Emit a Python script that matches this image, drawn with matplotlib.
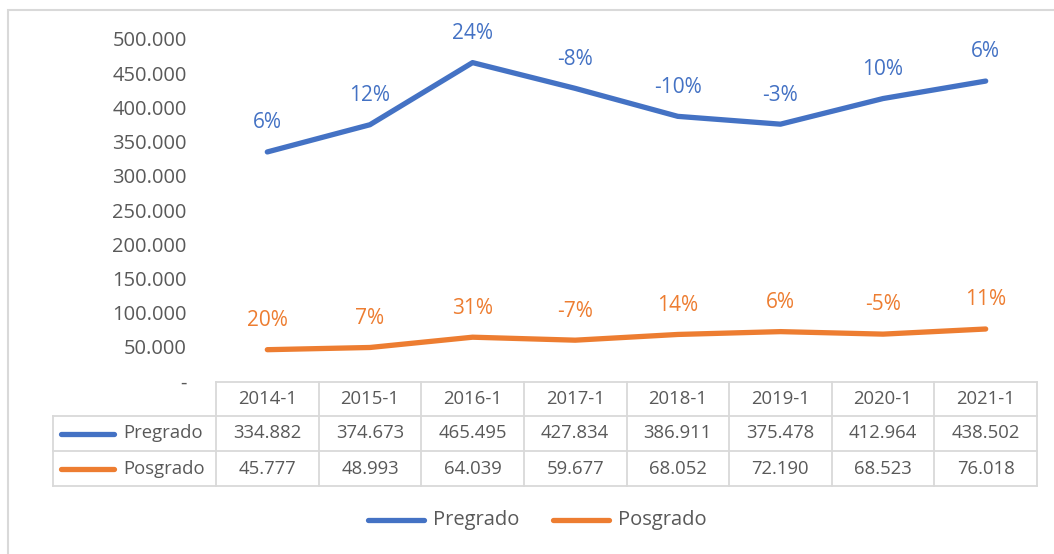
import matplotlib.pyplot as plt
from matplotlib.lines import Line2D
from matplotlib.patches import Rectangle

# data
periods = ["2014-1", "2015-1", "2016-1", "2017-1", "2018-1", "2019-1", "2020-1", "2021-1"]
pregrado = [334882, 374673, 465495, 427834, 386911, 375478, 412964, 438502]
posgrado = [45777, 48993, 64039, 59677, 68052, 72190, 68523, 76018]
pregrado_pct = ["6%", "12%", "24%", "-8%", "-10%", "-3%", "10%", "6%"]
posgrado_pct = ["20%", "7%", "31%", "-7%", "14%", "6%", "-5%", "11%"]
y_ticks = [0, 50000, 100000, 150000, 200000, 250000, 300000, 350000, 400000, 450000, 500000]

BLUE = "#4472C4"
ORANGE = "#ED7D31"
TXT = "#595959"
GRID = "#D9D9D9"
W, H = 1054, 554

plt.rcParams["font.family"] = ["Open Sans", "DejaVu Sans"]

def fmt(v):
    # spanish style thousands separator, zero shown as dash
    if v == 0:
        return "-"
    return f"{v:,}".replace(",", ".")

def fx(px):
    return px / W

def fy(py):
    return (H - py) / H

fig = plt.figure(figsize=(W / 100, H / 100), dpi=100)

# chart area border (only left and top visible in the crop)
fig.add_artist(Rectangle((fx(8), fy(600)), fx(1100), fy(10) - fy(600), transform=fig.transFigure,
                         fill=False, edgecolor=GRID, lw=1.5))

ax = fig.add_axes([fx(216), fy(381), fx(1037) - fx(216), fy(39) - fy(381)])
x = list(range(len(periods)))
ax.plot(x, pregrado, color=BLUE, lw=3.8, solid_capstyle="round", solid_joinstyle="round")
ax.plot(x, posgrado, color=ORANGE, lw=3.8, solid_capstyle="round", solid_joinstyle="round")

for i in x:
    ax.annotate(pregrado_pct[i], (i, pregrado[i]), xytext=(0, 21), textcoords="offset points",
                ha="center", va="center", color=BLUE, fontsize=15)
    ax.annotate(posgrado_pct[i], (i, posgrado[i]), xytext=(0, 21), textcoords="offset points",
                ha="center", va="center", color=ORANGE, fontsize=15)

ax.set_xlim(-0.5, len(periods) - 0.5)
ax.set_ylim(0, 500000)
ax.set_yticks(y_ticks)
ax.set_yticklabels([fmt(v) for v in y_ticks])
ax.tick_params(axis="y", length=0, pad=21, labelsize=14.5, labelcolor=TXT)
ax.set_xticks([])
for s in ax.spines.values():
    s.set_visible(False)
ax.patch.set_alpha(0)

# data table below the plot
left, right, lab_left = 216, 1037, 53
rows_y = [382, 416, 451, 486]
col_w = (right - left) / len(periods)

def hline(x0, x1, y):
    fig.add_artist(Line2D([fx(x0), fx(x1)], [fy(y), fy(y)], transform=fig.transFigure, color=GRID, lw=1.3))

def vline(xp, y0, y1):
    fig.add_artist(Line2D([fx(xp), fx(xp)], [fy(y0), fy(y1)], transform=fig.transFigure, color=GRID, lw=1.3))

hline(left, right, rows_y[0])
for y in rows_y[1:]:
    hline(lab_left, right, y)
for i in range(len(periods) + 1):
    vline(left + i * col_w, rows_y[0], rows_y[3])
vline(lab_left, rows_y[1], rows_y[3])

for i, p in enumerate(periods):
    cx = left + (i + 0.5) * col_w
    fig.text(fx(cx), fy((rows_y[0] + rows_y[1]) / 2), p, ha="center", va="center", color=TXT, fontsize=13.3)
    fig.text(fx(cx), fy((rows_y[1] + rows_y[2]) / 2), fmt(pregrado[i]), ha="center", va="center", color=TXT, fontsize=13.3)
    fig.text(fx(cx), fy((rows_y[2] + rows_y[3]) / 2), fmt(posgrado[i]), ha="center", va="center", color=TXT, fontsize=13.3)

for name, color, r in [("Pregrado", BLUE, 1), ("Posgrado", ORANGE, 2)]:
    yc = (rows_y[r] + rows_y[r + 1]) / 2
    fig.add_artist(Line2D([fx(61), fx(114)], [fy(yc), fy(yc)], transform=fig.transFigure,
                          color=color, lw=3.8, solid_capstyle="round"))
    fig.text(fx(123), fy(yc), name, ha="left", va="center", color=TXT, fontsize=13.3)

# legend at the bottom
for name, color, x0 in [("Pregrado", BLUE, 368), ("Posgrado", ORANGE, 553)]:
    fig.add_artist(Line2D([fx(x0), fx(x0 + 56)], [fy(520), fy(520)], transform=fig.transFigure,
                          color=color, lw=3.8, solid_capstyle="round"))
    fig.text(fx(x0 + 65), fy(520), name, ha="left", va="center", color=TXT, fontsize=14.5)

fig.savefig("out.png", dpi=100)
